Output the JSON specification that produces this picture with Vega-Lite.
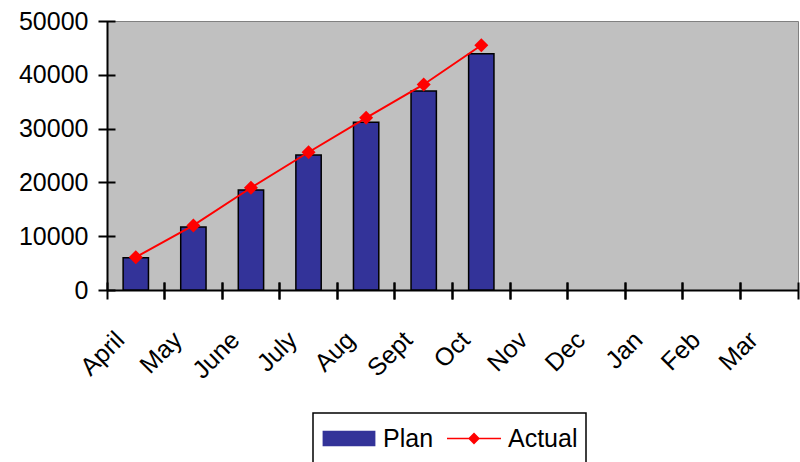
{
  "$schema": "https://vega.github.io/schema/vega-lite/v6.json",
  "width": 691,
  "height": 269,
  "autosize": "none",
  "padding": {"left": 107, "top": 21, "right": 2, "bottom": 172},
  "background": "white",
  "config": {
    "font": "Liberation Sans",
    "view": {"fill": "#C0C0C0", "stroke": "#808080", "strokeWidth": 1},
    "axis": {"grid": false, "title": null, "zindex": 1}
  },
  "data": {
    "values": [
      {"month": "April", "plan": 6000, "actual": 6100},
      {"month": "May", "plan": 11700, "actual": 12000},
      {"month": "June", "plan": 18600, "actual": 19000},
      {"month": "July", "plan": 25100, "actual": 25600},
      {"month": "Aug", "plan": 31200, "actual": 32000},
      {"month": "Sept", "plan": 37000, "actual": 38200},
      {"month": "Oct", "plan": 43900, "actual": 45500}
    ]
  },
  "layer": [
    {
      "mark": {"type": "bar", "stroke": "black", "strokeWidth": 1.5, "width": {"band": 0.44}},
      "encoding": {
        "x": {
          "field": "month", "type": "nominal", "sort": null,
          "scale": {"domain": ["April", "May", "June", "July", "Aug", "Sept", "Oct", "Nov", "Dec", "Jan", "Feb", "Mar"], "paddingInner": 0, "paddingOuter": 0},
          "axis": {"orient": "bottom", "labelAngle": -45, "labelAlign": "right", "labelBaseline": "top", "labelOffset": -24, "labelPadding": 37, "labelFontSize": 25, "labelColor": "black", "ticks": false, "tickSize": 0, "domainColor": "black", "domainWidth": 2}
        },
        "y": {
          "field": "plan", "type": "quantitative",
          "scale": {"domain": [0, 50000], "nice": false},
          "axis": {"orient": "left", "values": [0, 10000, 20000, 30000, 40000, 50000], "format": "d", "ticks": false, "tickSize": 0, "labelPadding": 19, "labelFontSize": 25, "labelColor": "black", "domainColor": "black", "domainWidth": 2}
        },
        "color": {
          "datum": "Plan",
          "scale": {"domain": ["Plan", "Actual"], "range": ["#333399", "#FF0000"]},
          "legend": {
            "orient": "none", "legendX": 206, "legendY": 392, "direction": "horizontal", "title": null,
            "strokeColor": "black", "fillColor": "white", "padding": 8, "clipHeight": 35,
            "symbolSize": 2916, "labelFontSize": 25, "labelColor": "black", "labelOffset": 6, "columnPadding": 12,
            "encoding": {
              "legend": {"strokeWidth": {"value": 1.5}},
              "symbols": {
                "shape": {"value": {"expr": "datum.value === 'Plan' ? 'M-0.95,-0.26H0.95V0.26H-0.95Z' : 'M-1,0H1M0,-0.18L0.18,0L0,0.18L-0.18,0Z'"}},
                "fill": {"value": {"expr": "datum.value === 'Plan' ? '#333399' : '#FF0000'"}},
                "stroke": {"value": {"expr": "datum.value === 'Plan' ? 'black' : '#FF0000'"}},
                "strokeWidth": {"value": 1.5},
                "opacity": {"value": 1},
                "fillOpacity": {"value": 1}
              }
            }
          }
        }
      }
    },
    {
      "mark": {"type": "line", "strokeWidth": 2},
      "encoding": {
        "x": {
          "field": "month", "type": "nominal", "sort": null,
          "axis": {"orient": "bottom", "bandPosition": 0, "labels": false, "domain": false, "tickSize": 17, "tickWidth": 2, "tickColor": "black", "offset": -8}
        },
        "y": {
          "field": "actual", "type": "quantitative",
          "axis": {"orient": "left", "values": [0, 10000, 20000, 30000, 40000, 50000], "labels": false, "domain": false, "tickSize": 17, "tickWidth": 2, "tickColor": "black", "offset": -8}
        },
        "color": {"datum": "Actual"}
      }
    },
    {
      "mark": {"type": "point", "shape": "diamond", "filled": true, "size": 196, "opacity": 1},
      "encoding": {
        "x": {
          "field": "month", "type": "nominal", "sort": null,
          "axis": {"orient": "bottom", "bandPosition": 1, "labels": false, "domain": false, "tickSize": 17, "tickWidth": 2, "tickColor": "black", "offset": -8}
        },
        "y": {"field": "actual", "type": "quantitative", "axis": null},
        "color": {"datum": "Actual"}
      }
    }
  ],
  "resolve": {"axis": {"x": "independent", "y": "independent"}}
}
